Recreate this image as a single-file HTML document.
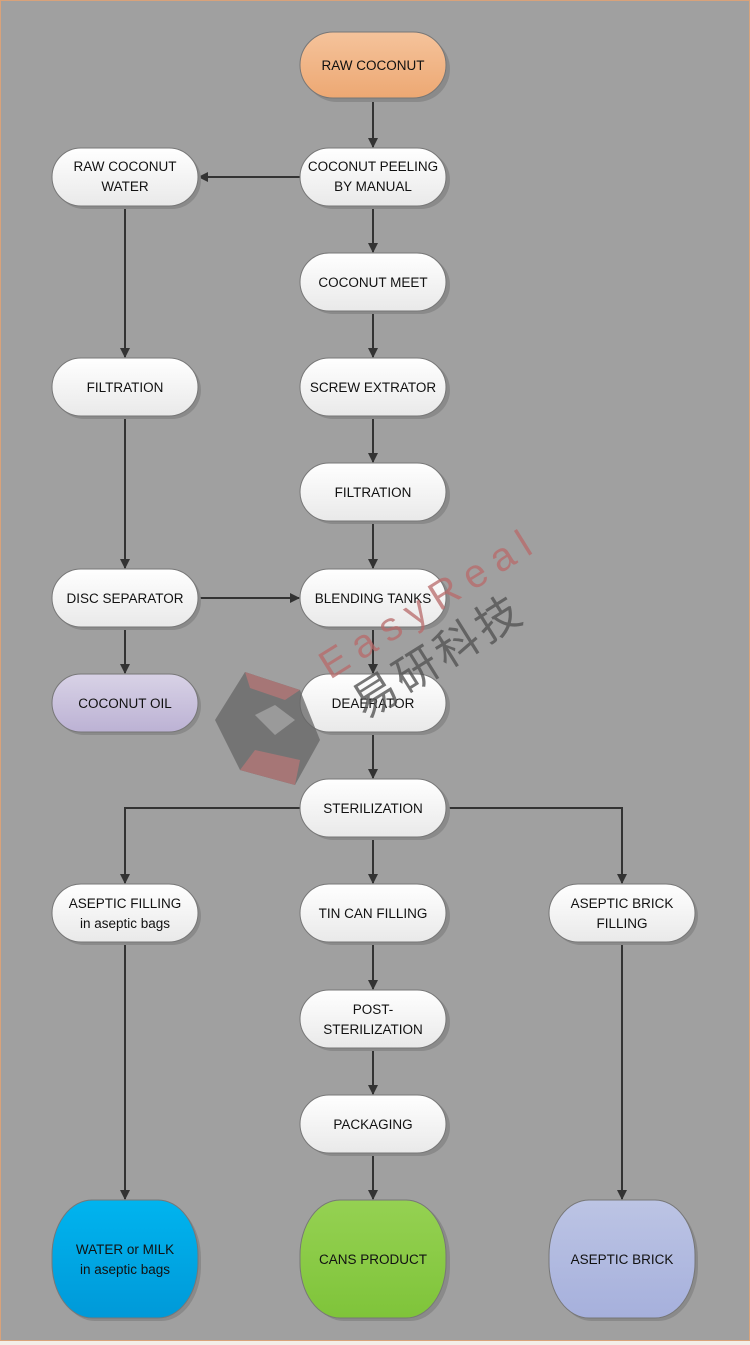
<!DOCTYPE html>
<html><head><meta charset="utf-8"><style>
html,body{margin:0;padding:0;background:#fff}
svg{display:block}
text{font-family:"Liberation Sans","Noto Sans CJK SC",sans-serif;font-size:13.5px;fill:#111}
</style></head><body>
<svg width="750" height="1345" viewBox="0 0 750 1345" xmlns="http://www.w3.org/2000/svg">
<defs>
<linearGradient id="w" x1="0" y1="0" x2="0" y2="1"><stop offset="0" stop-color="#ffffff"/><stop offset="1" stop-color="#e9e9e9"/></linearGradient>
<linearGradient id="o" x1="0" y1="0" x2="0" y2="1"><stop offset="0" stop-color="#f5c39b"/><stop offset="1" stop-color="#eda873"/></linearGradient>
<linearGradient id="p" x1="0" y1="0" x2="0" y2="1"><stop offset="0" stop-color="#d8d2e6"/><stop offset="1" stop-color="#bcb2d4"/></linearGradient>
<linearGradient id="b" x1="0" y1="0" x2="0" y2="1"><stop offset="0" stop-color="#00b4ef"/><stop offset="1" stop-color="#0099d8"/></linearGradient>
<linearGradient id="g" x1="0" y1="0" x2="0" y2="1"><stop offset="0" stop-color="#95d152"/><stop offset="1" stop-color="#7fc43a"/></linearGradient>
<linearGradient id="v" x1="0" y1="0" x2="0" y2="1"><stop offset="0" stop-color="#bcc4e4"/><stop offset="1" stop-color="#a6b0dc"/></linearGradient>
<marker id="a" markerWidth="10" markerHeight="10" refX="9" refY="5" orient="auto" markerUnits="userSpaceOnUse"><path d="M0,0 L10,5 L0,10 z" fill="#333"/></marker>
</defs>
<rect x="0.5" y="0.5" width="749" height="1340" fill="#a0a0a0" stroke="#d9a27a"/>
<rect x="0" y="1341" width="750" height="4" fill="#f3eee8"/>
<g stroke="#333" stroke-width="2" fill="none" marker-end="url(#a)">
<line x1="373" y1="99" x2="373" y2="147"/>
<line x1="300" y1="177" x2="199" y2="177"/>
<line x1="373" y1="206" x2="373" y2="252"/>
<line x1="373" y1="311" x2="373" y2="357"/>
<line x1="373" y1="416" x2="373" y2="462"/>
<line x1="373" y1="521" x2="373" y2="568"/>
<line x1="373" y1="627" x2="373" y2="673"/>
<line x1="373" y1="732" x2="373" y2="778"/>
<line x1="373" y1="837" x2="373" y2="883"/>
<line x1="373" y1="943" x2="373" y2="989"/>
<line x1="373" y1="1048" x2="373" y2="1094"/>
<line x1="373" y1="1153" x2="373" y2="1199"/>
<line x1="125" y1="206" x2="125" y2="357"/>
<line x1="125" y1="416" x2="125" y2="568"/>
<line x1="198" y1="598" x2="299" y2="598"/>
<line x1="125" y1="627" x2="125" y2="673"/>
<polyline points="300,808 125,808 125,883"/>
<polyline points="447,808 622,808 622,883"/>
<line x1="125" y1="943" x2="125" y2="1199"/>
<line x1="622" y1="943" x2="622" y2="1199"/>
</g>
<g stroke="#777" stroke-width="1">
<!-- shadows -->
<g fill="#8a8a8a" stroke="none">
<rect x="304" y="36" width="146" height="66" rx="33"/>
<rect x="55" y="151" width="146" height="58" rx="29"/><rect x="304" y="151" width="146" height="58" rx="29"/>
<rect x="304" y="256" width="146" height="58" rx="29"/><rect x="55" y="361" width="146" height="58" rx="29"/>
<rect x="304" y="361" width="146" height="58" rx="29"/><rect x="304" y="466" width="146" height="58" rx="29"/>
<rect x="55" y="572" width="146" height="58" rx="29"/><rect x="304" y="572" width="146" height="58" rx="29"/>
<rect x="55" y="677" width="146" height="58" rx="29"/><rect x="304" y="677" width="146" height="58" rx="29"/>
<rect x="304" y="782" width="146" height="58" rx="29"/>
<rect x="55" y="887" width="146" height="58" rx="29"/><rect x="304" y="887" width="146" height="58" rx="29"/><rect x="552" y="887" width="146" height="58" rx="29"/>
<rect x="304" y="993" width="146" height="58" rx="29"/><rect x="304" y="1098" width="146" height="58" rx="29"/>
<rect x="55" y="1203" width="146" height="118" rx="40" ry="55"/><rect x="304" y="1203" width="146" height="118" rx="40" ry="55"/><rect x="552" y="1203" width="146" height="118" rx="40" ry="55"/>
</g>
<rect x="300" y="32" width="146" height="66" rx="33" fill="url(#o)"/>
<rect x="52" y="148" width="146" height="58" rx="29" fill="url(#w)"/><rect x="300" y="148" width="146" height="58" rx="29" fill="url(#w)"/>
<rect x="300" y="253" width="146" height="58" rx="29" fill="url(#w)"/><rect x="52" y="358" width="146" height="58" rx="29" fill="url(#w)"/>
<rect x="300" y="358" width="146" height="58" rx="29" fill="url(#w)"/><rect x="300" y="463" width="146" height="58" rx="29" fill="url(#w)"/>
<rect x="52" y="569" width="146" height="58" rx="29" fill="url(#w)"/><rect x="300" y="569" width="146" height="58" rx="29" fill="url(#w)"/>
<rect x="52" y="674" width="146" height="58" rx="29" fill="url(#p)"/><rect x="300" y="674" width="146" height="58" rx="29" fill="url(#w)"/>
<rect x="300" y="779" width="146" height="58" rx="29" fill="url(#w)"/>
<rect x="52" y="884" width="146" height="58" rx="29" fill="url(#w)"/><rect x="300" y="884" width="146" height="58" rx="29" fill="url(#w)"/><rect x="549" y="884" width="146" height="58" rx="29" fill="url(#w)"/>
<rect x="300" y="990" width="146" height="58" rx="29" fill="url(#w)"/><rect x="300" y="1095" width="146" height="58" rx="29" fill="url(#w)"/>
<rect x="52" y="1200" width="146" height="118" rx="40" ry="55" fill="url(#b)"/><rect x="300" y="1200" width="146" height="118" rx="40" ry="55" fill="url(#g)"/><rect x="549" y="1200" width="146" height="118" rx="40" ry="55" fill="url(#v)"/>
</g>
<g text-anchor="middle">
<text x="373" y="70">RAW COCONUT</text>
<text x="125" y="171">RAW COCONUT</text><text x="125" y="191">WATER</text>
<text x="373" y="171">COCONUT PEELING</text><text x="373" y="191">BY MANUAL</text>
<text x="373" y="287">COCONUT MEET</text>
<text x="125" y="392">FILTRATION</text><text x="373" y="392">SCREW EXTRATOR</text>
<text x="373" y="497">FILTRATION</text>
<text x="125" y="603">DISC SEPARATOR</text><text x="373" y="603">BLENDING TANKS</text>
<text x="125" y="708">COCONUT OIL</text><text x="373" y="708">DEAERATOR</text>
<text x="373" y="813">STERILIZATION</text>
<text x="125" y="908">ASEPTIC FILLING</text><text x="125" y="928">in aseptic bags</text>
<text x="373" y="918">TIN CAN FILLING</text>
<text x="622" y="908">ASEPTIC BRICK</text><text x="622" y="928">FILLING</text>
<text x="373" y="1014">POST-</text><text x="373" y="1034">STERILIZATION</text>
<text x="373" y="1129">PACKAGING</text>
<text x="125" y="1254">WATER or MILK</text><text x="125" y="1274">in aseptic bags</text>
<text x="373" y="1264">CANS PRODUCT</text>
<text x="622" y="1264">ASEPTIC BRICK</text>
</g>
<!-- watermark -->
<g opacity="0.75">
<polygon points="245,672 300,690 320,740 295,785 240,770 215,720" fill="#666"/>
<polygon points="245,672 300,690 285,700 250,688" fill="#a86868"/>
<polygon points="240,770 295,785 300,760 255,750" fill="#a86868"/>
<polygon points="255,715 275,705 295,720 275,735" fill="#999"/>
</g>
<text x="330" y="680" transform="rotate(-32 330 680)" style="font-size:40px;fill:#b86a6a;opacity:0.75;letter-spacing:10px">EasyReal</text>
<text x="365" y="720" transform="rotate(-32 365 720)" style="font-size:44px;fill:#555;opacity:0.8;letter-spacing:4px">易研科技</text>
</svg>
</body></html>
